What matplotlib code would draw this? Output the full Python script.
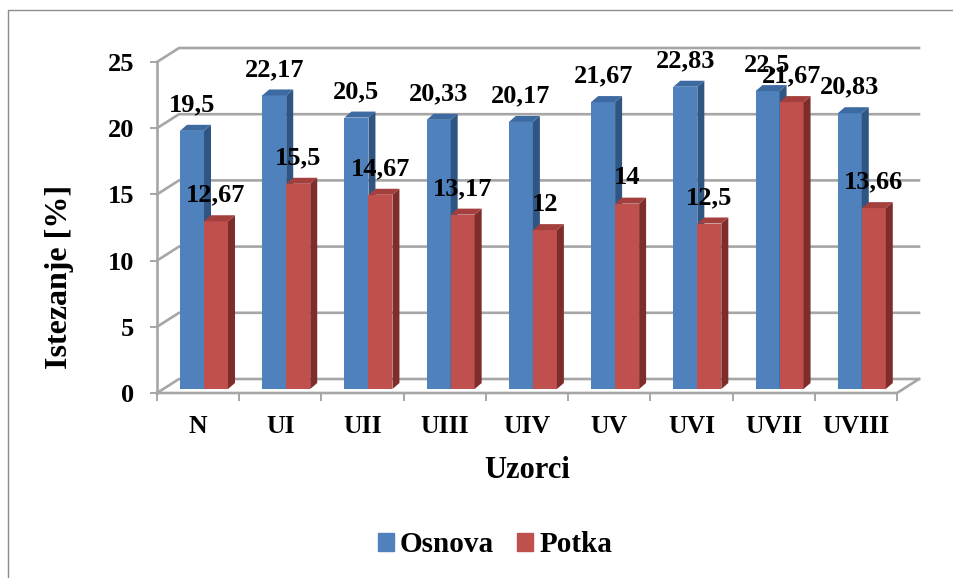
import matplotlib
matplotlib.use("Agg")
import matplotlib.pyplot as plt
from matplotlib.lines import Line2D
from matplotlib.patches import Patch, Polygon
from matplotlib.transforms import Affine2D

categories = ["N", "UI", "UII", "UIII", "UIV", "UV", "UVI", "UVII", "UVIII"]
osnova = [19.5, 22.17, 20.5, 20.33, 20.17, 21.67, 22.83, 22.5, 20.83]
potka = [12.67, 15.5, 14.67, 13.17, 12, 14, 12.5, 21.67, 13.66]
osnova_labels = ["19,5", "22,17", "20,5", "20,33", "20,17", "21,67", "22,83", "22,5", "20,83"]
potka_labels = ["12,67", "15,5", "14,67", "13,17", "12", "14", "12,5", "21,67", "13,66"]
y_ticks = [0, 5, 10, 15, 20, 25]

W, H = 954, 578
plt.rcParams["font.family"] = ["Liberation Serif", "DejaVu Serif"]
plt.rcParams["font.weight"] = "bold"

fig = plt.figure(figsize=(W / 100, H / 100), dpi=100)
# front plane of the fake 3D box, pixels
ax = fig.add_axes([157 / W, 1 - 393 / H, 740 / W, 331 / H])
ax.set_xlim(0, 9)
ax.set_ylim(0, 25)
for s in ax.spines.values():
    s.set_visible(False)

px_x = 9 / 740
px_y = 25 / 331
wall_dx = 22 * px_x
wall_dy = 14 * px_y
grid_col = "#a6a6a6"

# back wall and the side lines going to it
for v in y_ticks:
    ax.plot([0, wall_dx, 9 + wall_dx], [v, v + wall_dy, v + wall_dy], color=grid_col,
            lw=1.9, clip_on=False, zorder=1)
ax.plot([0, 0], [0, 25], color=grid_col, lw=1.9, clip_on=False, zorder=1)
ax.plot([0, 9, 9 + wall_dx], [0, 0, wall_dy], color=grid_col, lw=1.9, clip_on=False, zorder=1)

# bars stand a little behind the front edge
bar_tr = ax.transData + Affine2D().translate(7.5, 4)
bar_w = 24 * px_x
depth_x = 7 * px_x
depth_y = 6 * px_y


def draw_bar(x, val, front, side, top, z):
    ax.bar(x, val, bar_w, align="edge", color=front, transform=bar_tr, clip_on=False, zorder=z)
    ax.add_patch(Polygon([(x + bar_w, 0), (x + bar_w + depth_x, depth_y),
                          (x + bar_w + depth_x, val + depth_y), (x + bar_w, val)],
                         closed=True, color=side, lw=0, transform=bar_tr, clip_on=False, zorder=z))
    ax.add_patch(Polygon([(x, val), (x + depth_x, val + depth_y),
                          (x + bar_w + depth_x, val + depth_y), (x + bar_w, val)],
                         closed=True, color=top, lw=0, transform=bar_tr, clip_on=False, zorder=z))


left = 15.5 * px_x
for i in range(len(categories)):
    x0 = i + left
    draw_bar(x0, osnova[i], "#4f81bd", "#2f5583", "#3c6aa1", 3)
    draw_bar(x0 + bar_w, potka[i], "#c0504d", "#7f2d2b", "#a33f3c", 4)

for i in range(len(categories)):
    x0 = i + left
    ax.annotate(osnova_labels[i], (x0 + bar_w / 2, osnova[i]), xycoords=bar_tr, xytext=(0, 26),
                textcoords="offset pixels", ha="center", va="center", fontsize=19, zorder=6,
                annotation_clip=False)
    ax.annotate(potka_labels[i], (x0 + bar_w * 1.5, potka[i]), xycoords=bar_tr, xytext=(0, 26),
                textcoords="offset pixels", ha="center", va="center", fontsize=19, zorder=6,
                annotation_clip=False)

ax.set_yticks(y_ticks)
ax.set_yticklabels([str(v) for v in y_ticks], fontsize=19)
ax.set_xticks(range(10))
ax.set_xticklabels([])
ax.set_xticks([i + 0.5 for i in range(9)], minor=True)
ax.set_xticklabels(categories, minor=True, fontsize=18.5)
ax.tick_params(axis="y", length=5, width=1.4, color=grid_col, pad=11.5)
ax.tick_params(axis="x", which="major", length=5.5, width=1.4, color=grid_col)
ax.tick_params(axis="x", which="minor", length=0, pad=15.5)

ax.set_xlabel("Uzorci", fontsize=22, fontweight="bold")
ax.xaxis.set_label_coords(0.5, -(470 - 393) / 331, transform=ax.transAxes)
ax.xaxis.label.set_va("center")
ax.set_ylabel("Istezanje [%]", fontsize=23, fontweight="bold")
ax.yaxis.set_label_coords(-(157 - 59) / 740, (393 - 277) / 331)
ax.yaxis.label.set_va("center")

handles = [Patch(color="#4f81bd", label="Osnova"), Patch(color="#c0504d", label="Potka")]
fig.legend(handles=handles, loc="center", bbox_to_anchor=(495 / W, 1 - 545 / H), ncol=2, frameon=False,
           fontsize=21, handlelength=0.55, handleheight=0.55, handletextpad=0.2, columnspacing=0.8)

# chart frame, only top and left are inside the crop
fig.add_artist(Line2D([8 / W, 8 / W, 1], [0, 1 - 10 / H, 1 - 10 / H], color="#8c8c8c", lw=1))

fig.savefig("out.png", dpi=100)
